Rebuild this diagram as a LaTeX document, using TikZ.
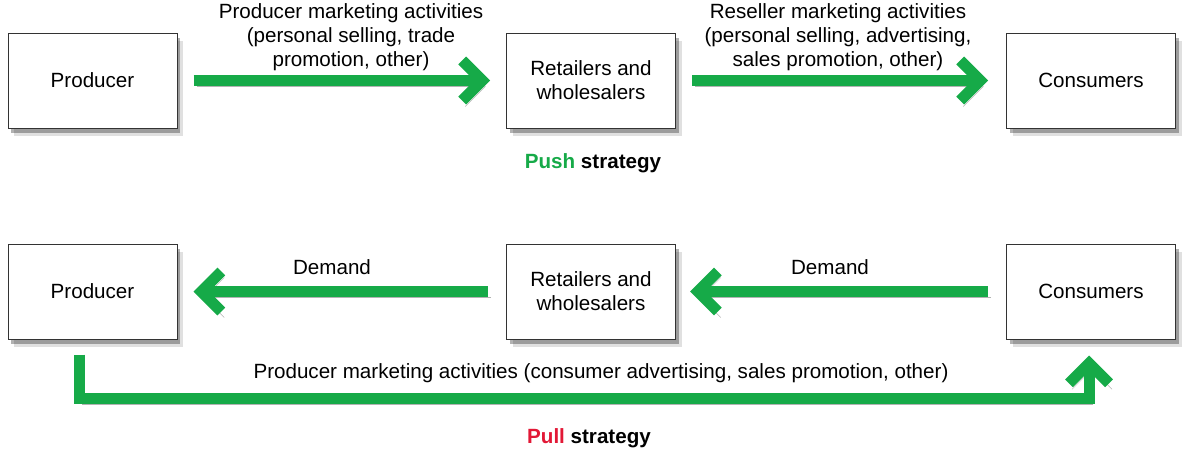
\documentclass[tikz,border=0pt]{standalone}
\usepackage{fontspec}
\setmainfont{Liberation Sans}
\usetikzlibrary{arrows.meta,shadows,positioning}
\definecolor{pushgreen}{RGB}{22,170,72}
\definecolor{pullred}{RGB}{226,24,54}
\tikzset{
  box/.style={draw=black!80,line width=1pt,fill=white,minimum width=169pt,minimum height=95pt,
    inner sep=0pt,align=center,
    drop shadow={shadow xshift=6pt,shadow yshift=-8pt,fill=black,opacity=.12},
    drop shadow={shadow xshift=3pt,shadow yshift=-5pt,fill=black,opacity=.3}},
  fat/.style={draw=pushgreen,line width=11pt,-{Straight Barb[length=20pt,width=40pt,sharp]},
    preaction={draw=black,opacity=.3,transform canvas={xshift=3pt,yshift=-6pt}}},
  lbl/.style={align=center,inner sep=0pt},
}
\begin{document}
\begin{tikzpicture}[x=1pt,y=-1pt,font=\fontsize{20.6}{24}\selectfont]
\useasboundingbox (0,0) rectangle (1200,450);
% push strategy
\node[box] (prodA) at (92.5,80.5) {Producer};
\node[box] (retA) at (591,80.5) {Retailers and\\wholesalers};
\node[box] (consA) at (1091,80.5) {Consumers};
\draw[fat,shorten <=16pt,shorten >=16pt] (prodA) -- (retA);
\draw[fat,shorten <=16pt,shorten >=18pt] (retA) -- (consA);
\node[lbl] (actA) at (351,37) {Producer marketing activities\\(personal selling, trade\\promotion, other)};
\node[lbl] (actB) at (838,37) {Reseller marketing activities\\(personal selling, advertising,\\sales promotion, other)};
\node[lbl] (push) at (593,163) {\bfseries\textcolor{pushgreen}{Push} strategy};
% pull strategy
\node[box] (prodB) at (92.5,291.5) {Producer};
\node[box] (retB) at (591,291.5) {Retailers and\\wholesalers};
\node[box] (consB) at (1091,291.5) {Consumers};
\draw[fat,shorten <=18pt,shorten >=14pt] (consB) -- (retB);
\draw[fat,shorten <=18pt,shorten >=16pt] (retB) -- (prodB);
\node[lbl] (demA) at (332,267) {Demand};
\node[lbl] (demB) at (830,267) {Demand};
\coordinate (pstart) at ([xshift=-13.5pt,yshift=-15pt]prodB.south);
\coordinate (pend) at ([xshift=-2pt,yshift=-16pt]consB.south);
\draw[fat] (pstart) |- ([yshift=-43pt]pend) -- (pend);
\node[lbl] (actC) at (601,373) {Producer marketing activities (consumer advertising, sales promotion, other)};
\node[lbl] (pull) at (589,438) {\bfseries\textcolor{pullred}{Pull} strategy};
\end{tikzpicture}
\end{document}
